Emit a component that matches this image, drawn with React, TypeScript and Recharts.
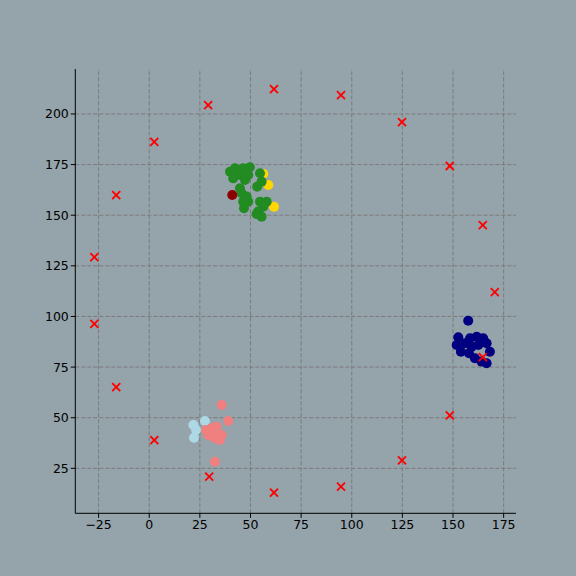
import React from "react";
import { ScatterChart, Scatter, XAxis, YAxis, ReferenceLine } from "recharts";

const BG = "#95a3ab";
const GRID = "#7a7a7a";
const FONT = "DejaVu Sans";

const X_TICKS = [-25, 0, 25, 50, 75, 100, 125, 150, 175];
const Y_TICKS = [25, 50, 75, 100, 125, 150, 175, 200];

// red crosses around the clusters
const crossX = [29.1, 61.6, 94.7, 124.8, 148.4, 164.7, 170.6, 164.7, 148.4, 124.8, 94.7, 61.6, 29.6, 2.5, -16.3, -27.1, -27.1, -16.3, 2.5];
const crossY = [204.4, 212.3, 209.3, 196.0, 174.3, 145.1, 112.0, 79.9, 51.2, 28.9, 16.0, 13.0, 20.9, 38.9, 65.1, 96.3, 129.3, 159.9, 186.2];

const greenX = [39.9, 42.3, 46.4, 49.7, 41.5, 44.8, 48.9, 47.3, 54.7, 55.5, 53.3, 44.8, 45.6, 48.1, 46.4, 46.8, 48.9, 54.7, 58.0, 56.3, 53.8, 55.5, 53.0];
const greenY = [171.5, 173.2, 173.2, 173.7, 168.2, 169.9, 169.9, 167.4, 170.7, 166.6, 164.1, 163.3, 160.8, 159.2, 156.7, 153.4, 156.7, 156.7, 156.7, 154.2, 151.8, 149.3, 150.6];

const goldX = [56.3, 58.8, 61.6];
const goldY = [170.4, 164.9, 154.2];

const darkRedX = [41.0];
const darkRedY = [160.0];

const navyX = [157.5, 152.6, 151.8, 153.9, 155.9, 158.4, 161.7, 164.9, 166.6, 159.2, 162.5, 157.9, 160.8, 164.1, 168.2, 166.6];
const navyY = [97.9, 89.7, 85.9, 82.6, 86.8, 89.2, 90.0, 89.2, 86.8, 85.1, 85.9, 81.8, 79.4, 77.7, 82.6, 76.9];

const lightBlueX = [21.8, 22.1, 27.5, 23.1];
const lightBlueY = [46.4, 40.1, 48.4, 44.0];

const coralX = [35.8, 39.0, 28.0, 30.8, 33.3, 29.1, 32.4, 35.8, 34.9, 31.6, 32.4];
const coralY = [56.3, 48.4, 43.9, 44.8, 45.6, 41.5, 39.9, 41.5, 39.0, 42.3, 28.3];

const pts = (xs: number[], ys: number[]) => xs.map((x, i) => ({ x, y: ys[i] }));

const dot = (color: string) => (p: any) => <circle cx={p.cx} cy={p.cy} r={5} fill={color} />;

const cross = (p: any) => (
  <g stroke="#ff0000" strokeWidth={1.8}>
    <line x1={p.cx - 4} y1={p.cy - 4} x2={p.cx + 4} y2={p.cy + 4} />
    <line x1={p.cx - 4} y1={p.cy + 4} x2={p.cx + 4} y2={p.cy - 4} />
  </g>
);

const fmt = (v: number) => (v < 0 ? `\u2212${Math.abs(v)}` : `${v}`);
const tick = { fill: "#000", fontSize: 12.5, fontFamily: FONT };

export default function App() {
  return (
    <div style={{ position: "absolute", left: 0, top: 0, width: 576, height: 576, background: BG }}>
      <ScatterChart width={576} height={576} margin={{ top: 69, right: 60, bottom: 0, left: 0 }}>
        {X_TICKS.map((t) => (
          <ReferenceLine key={`vx${t}`} x={t} stroke={GRID} strokeDasharray="4 2" />
        ))}
        {Y_TICKS.map((t) => (
          <ReferenceLine key={`hy${t}`} y={t} stroke={GRID} strokeDasharray="4 2" />
        ))}
        <XAxis
          type="number"
          dataKey="x"
          domain={[-36.5, 181.1]}
          ticks={X_TICKS}
          allowDataOverflow
          height={62.7}
          tick={tick}
          tickFormatter={fmt}
          tickSize={4.5}
          axisLine={{ stroke: "#000" }}
          tickLine={{ stroke: "#000" }}
        />
        <YAxis
          type="number"
          dataKey="y"
          domain={[2.8, 222.2]}
          ticks={Y_TICKS}
          allowDataOverflow
          width={75.3}
          tick={tick}
          tickFormatter={fmt}
          tickSize={4.5}
          axisLine={{ stroke: "#000" }}
          tickLine={{ stroke: "#000" }}
        />
        <Scatter data={pts(goldX, goldY)} shape={dot("#ffd700")} isAnimationActive={false} />
        <Scatter data={pts(greenX, greenY)} shape={dot("#228b22")} isAnimationActive={false} />
        <Scatter data={pts(darkRedX, darkRedY)} shape={dot("#8b0000")} isAnimationActive={false} />
        <Scatter data={pts(lightBlueX, lightBlueY)} shape={dot("#add8e6")} isAnimationActive={false} />
        <Scatter data={pts(coralX, coralY)} shape={dot("#f08080")} isAnimationActive={false} />
        <Scatter data={pts(navyX, navyY)} shape={dot("#000080")} isAnimationActive={false} />
        <Scatter data={pts(crossX, crossY)} shape={cross} isAnimationActive={false} />
      </ScatterChart>
    </div>
  );
}
